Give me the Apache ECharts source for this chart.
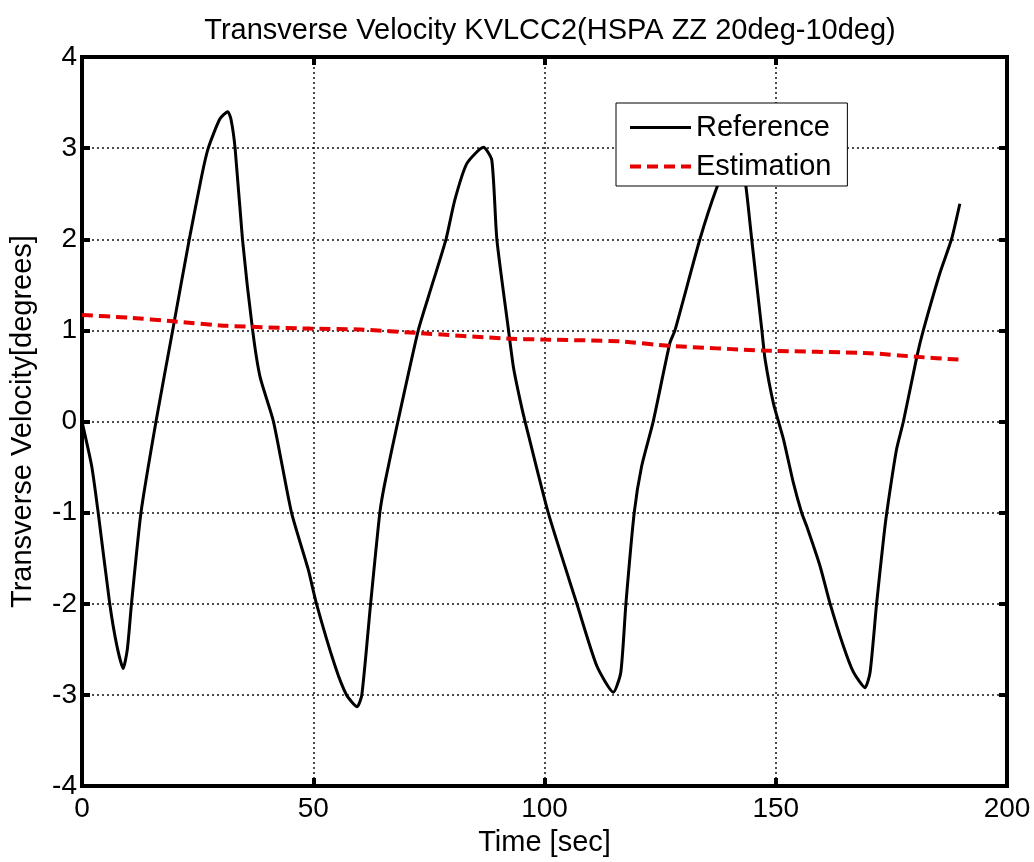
<!DOCTYPE html>
<html>
<head>
<meta charset="utf-8">
<script src="https://cdn.jsdelivr.net/npm/echarts@6/dist/echarts.min.js"></script>
<style>html,body{margin:0;padding:0;background:#fff;}#c{width:1034px;height:862px;}</style>
</head>
<body>
<div id="c"></div>
<script>
const titleText = 'Transverse Velocity KVLCC2(HSPA ZZ 20deg-10deg)';
const xAxisName = 'Time [sec]';
const yAxisName = 'Transverse Velocity[degrees]';
const seriesNames = ['Reference', 'Estimation'];

const refTime = [0, 2.1, 3.5, 6.0, 7.5, 8.9, 9.8, 10.7, 12.75, 16.0, 19.6, 23.2, 25.9, 27.3, 29.8, 31.5, 32.2, 33.1, 34.7, 36.9, 38.5, 41.4, 45.3, 48.9, 50.7, 54.7, 57.2, 59.5, 60.5, 62.4, 64.4, 65.5, 68.3, 72.7, 74.9, 78.7, 80.6, 83.2, 86.8, 88.6, 89.7, 92.2, 93.3, 94.7, 95.8, 100.8, 107.0, 111.3, 114.9, 116.5, 117.6, 119.4, 121.0, 123.5, 127.1, 128.2, 133.6, 137.2, 139.5, 141.5, 142.7, 143.6, 144.8, 147.0, 147.7, 149.5, 151.7, 153.8, 155.6, 156.7, 159.6, 161.7, 164.6, 166.8, 169.3, 170.4, 171.8, 173.3, 174.0, 176.1, 177.6, 180.5, 181.9, 185.5, 188.0, 189.8];
const refValue = [0, -0.49, -1.0, -2.0, -2.45, -2.71, -2.5, -2.0, -1.0, 0, 1.0, 2.0, 2.7, 3.0, 3.32, 3.40, 3.32, 3.0, 2.0, 1.0, 0.49, 0, -1.0, -1.62, -2.0, -2.68, -3.0, -3.13, -3.0, -2.0, -1.0, -0.67, 0, 1.0, 1.37, 2.0, 2.43, 2.83, 3.01, 2.87, 2.0, 1.01, 0.59, 0.24, 0, -1.0, -2.0, -2.68, -2.97, -2.75, -2.0, -1.0, -0.49, 0, 0.86, 1.0, 2.0, 2.56, 2.82, 2.93, 2.8, 2.56, 2.0, 1.0, 0.68, 0.2, -0.2, -0.67, -1.0, -1.15, -1.59, -1.99, -2.46, -2.75, -2.92, -2.75, -2.0, -1.29, -1.0, -0.31, 0, 0.71, 1.0, 1.63, 2.0, 2.39];

const estTime = [0, 10, 19.8, 31.4, 49.3, 60.1, 73.1, 91.8, 99.7, 116.3, 127.1, 147.3, 170.4, 180.5, 189.5];
const estValue = [1.17, 1.14, 1.10, 1.05, 1.02, 1.01, 0.97, 0.91, 0.90, 0.88, 0.83, 0.78, 0.75, 0.71, 0.68];

const xTickValues = [0, 50, 100, 150, 200];
const yTickValues = [-4, -3, -2, -1, 0, 1, 2, 3, 4];

const refData = refTime.map((t, i) => [t, refValue[i]]);
const estData = estTime.map((t, i) => [t, estValue[i]]);

const FONT = 'Liberation Sans, Arial, sans-serif';
const chart = echarts.init(document.getElementById('c'), null, {renderer: 'canvas'});

const tickStyle = {show: true, inside: true, length: 8, lineStyle: {color: '#000', width: 4}};
const splitStyle = {show: true, lineStyle: {color: '#111', width: 1.5, type: [2, 3]}};
const lineAxis = {show: true, onZero: false, lineStyle: {color: '#000', width: 4}};

chart.setOption({
  backgroundColor: '#fff',
  animation: false,
  title: {
    text: titleText,
    left: 545, textAlign: 'center', top: 11,
    textStyle: {fontFamily: FONT, fontSize: 29, fontWeight: 'normal', color: '#000'}
  },
  grid: {left: 82, right: 27, top: 57, bottom: 75, show: true, borderColor: '#000', borderWidth: 4, backgroundColor: '#fff'},
  legend: {
    left: 616, top: 103, orient: 'vertical',
    backgroundColor: '#fff', borderColor: '#000', borderWidth: 1,
    padding: [10, 16, 5, 12], itemGap: 10,
    itemWidth: 61, itemHeight: 24,
    itemStyle: {opacity: 0},
    textStyle: {fontFamily: FONT, fontSize: 29, color: '#000'},
    data: [
      {name: seriesNames[0], lineStyle: {width: 3, color: '#000'}},
      {name: seriesNames[1], lineStyle: {width: 4, color: '#e60000', type: [11, 6]}}
    ]
  },
  xAxis: [{
    type: 'value', min: xTickValues[0], max: xTickValues[xTickValues.length - 1], interval: 50,
    name: xAxisName, nameLocation: 'middle', nameGap: 40,
    nameTextStyle: {fontFamily: FONT, fontSize: 29, color: '#000'},
    axisLine: lineAxis,
    axisTick: tickStyle,
    axisLabel: {fontFamily: FONT, fontSize: 28, color: '#000', margin: 9},
    splitLine: splitStyle
  }, {
    type: 'value', position: 'top', min: 0, max: 200, interval: 50,
    axisLine: lineAxis,
    axisTick: tickStyle, axisLabel: {show: false}, splitLine: {show: false}
  }],
  yAxis: [{
    type: 'value', min: yTickValues[0], max: yTickValues[yTickValues.length - 1], interval: 1,
    name: yAxisName, nameLocation: 'middle', nameGap: 45, nameRotate: 90,
    nameTextStyle: {fontFamily: FONT, fontSize: 29, color: '#000'},
    axisLine: lineAxis,
    axisTick: tickStyle,
    axisLabel: {fontFamily: FONT, fontSize: 28, color: '#000', margin: 5},
    splitLine: splitStyle
  }, {
    type: 'value', position: 'right', min: -4, max: 4, interval: 1,
    axisLine: lineAxis,
    axisTick: tickStyle, axisLabel: {show: false}, splitLine: {show: false}
  }],
  series: [{
    name: seriesNames[0], type: 'line', data: refData,
    showSymbol: false, symbol: 'none', smooth: 0.2,
    lineStyle: {color: '#000', width: 3}, itemStyle: {color: '#000'}, z: 3
  }, {
    name: seriesNames[1], type: 'line', data: estData,
    showSymbol: false, symbol: 'none', smooth: 0.2,
    lineStyle: {color: '#e60000', width: 4, type: [11, 6]}, itemStyle: {color: '#e60000'}, z: 4
  }]
});
</script>
</body>
</html>
